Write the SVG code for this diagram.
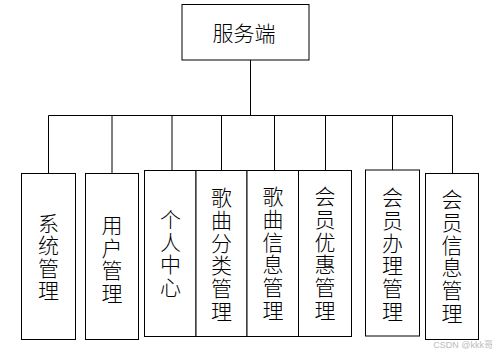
<svg xmlns="http://www.w3.org/2000/svg" width="498" height="357" viewBox="0 0 498 357">
<style>
rect{fill:#fff;stroke:#000;stroke-width:1}
.c line{stroke:#000;stroke-width:1}
text{font-family:"Noto Sans CJK SC","Noto Sans CJK JP",sans-serif;font-size:21px;font-weight:300;fill:#000;text-anchor:middle;dominant-baseline:central}
.wm{font-family:"Liberation Sans","Noto Sans CJK SC",sans-serif;font-size:9px;font-weight:400;fill:#bbb;text-anchor:end;dominant-baseline:auto}
</style>
<g class="c" id="connectors">
<line x1="250.5" y1="60" x2="250.5" y2="115.5"/>
<line x1="48.5" y1="115.5" x2="452.5" y2="115.5"/>
<line x1="48.5" y1="115.5" x2="48.5" y2="173.5"/>
<line x1="112" y1="115.5" x2="112" y2="173.5"/>
<line x1="172" y1="115.5" x2="172" y2="171"/>
<line x1="221.5" y1="115.5" x2="221.5" y2="171"/>
<line x1="274.5" y1="115.5" x2="274.5" y2="171"/>
<line x1="325.5" y1="115.5" x2="325.5" y2="171"/>
<line x1="392.5" y1="115.5" x2="392.5" y2="170"/>
<line x1="452.5" y1="115.5" x2="452.5" y2="173.5"/>
</g>
<g id="server">
<rect x="182" y="4.5" width="127" height="55.5"/>
<text x="244" y="32" font-size="22">服务端</text>
</g>
<g id="n1">
<rect x="21.5" y="173.5" width="54" height="166"/>
<text x="48.5"><tspan x="48.5" y="221.5">系</tspan><tspan x="48.5" y="244">统</tspan><tspan x="48.5" y="266.5">管</tspan><tspan x="48.5" y="289">理</tspan></text>
</g>
<g id="n2">
<rect x="85.5" y="173.5" width="53" height="166"/>
<text x="112"><tspan x="112" y="224">用</tspan><tspan x="112" y="246.5">户</tspan><tspan x="112" y="269">管</tspan><tspan x="112" y="291.5">理</tspan></text>
</g>
<g id="n3">
<rect x="144.5" y="170.5" width="51.5" height="166"/>
<text x="170.5"><tspan x="170.5" y="218">个</tspan><tspan x="170.5" y="240.5">人</tspan><tspan x="170.5" y="263">中</tspan><tspan x="170.5" y="285.5">心</tspan></text>
</g>
<g id="n4">
<rect x="196" y="170.5" width="51" height="166"/>
<text x="221.5"><tspan x="221.5" y="196">歌</tspan><tspan x="221.5" y="218.8">曲</tspan><tspan x="221.5" y="241.6">分</tspan><tspan x="221.5" y="264.4">类</tspan><tspan x="221.5" y="287.2">管</tspan><tspan x="221.5" y="310">理</tspan></text>
</g>
<g id="n5">
<rect x="247" y="170.5" width="51.5" height="166"/>
<text x="273"><tspan x="273" y="195">歌</tspan><tspan x="273" y="217.8">曲</tspan><tspan x="273" y="240.6">信</tspan><tspan x="273" y="263.4">息</tspan><tspan x="273" y="286.2">管</tspan><tspan x="273" y="309">理</tspan></text>
</g>
<g id="n6">
<rect x="298.5" y="170.5" width="53" height="166"/>
<text x="325"><tspan x="325" y="195">会</tspan><tspan x="325" y="217.8">员</tspan><tspan x="325" y="240.6">优</tspan><tspan x="325" y="263.4">惠</tspan><tspan x="325" y="286.2">管</tspan><tspan x="325" y="309">理</tspan></text>
</g>
<g id="n7">
<rect x="365.5" y="170" width="54" height="166"/>
<text x="392.5"><tspan x="392.5" y="196">会</tspan><tspan x="392.5" y="218.8">员</tspan><tspan x="392.5" y="241.6">办</tspan><tspan x="392.5" y="264.4">理</tspan><tspan x="392.5" y="287.2">管</tspan><tspan x="392.5" y="310">理</tspan></text>
</g>
<g id="n8">
<rect x="425.5" y="173.5" width="53" height="166"/>
<text x="452"><tspan x="452" y="198">会</tspan><tspan x="452" y="220.8">员</tspan><tspan x="452" y="243.6">信</tspan><tspan x="452" y="266.4">息</tspan><tspan x="452" y="289.2">管</tspan><tspan x="452" y="312">理</tspan></text>
</g>
<text class="wm" x="493" y="348">CSDN @kkk哥</text>
</svg>
